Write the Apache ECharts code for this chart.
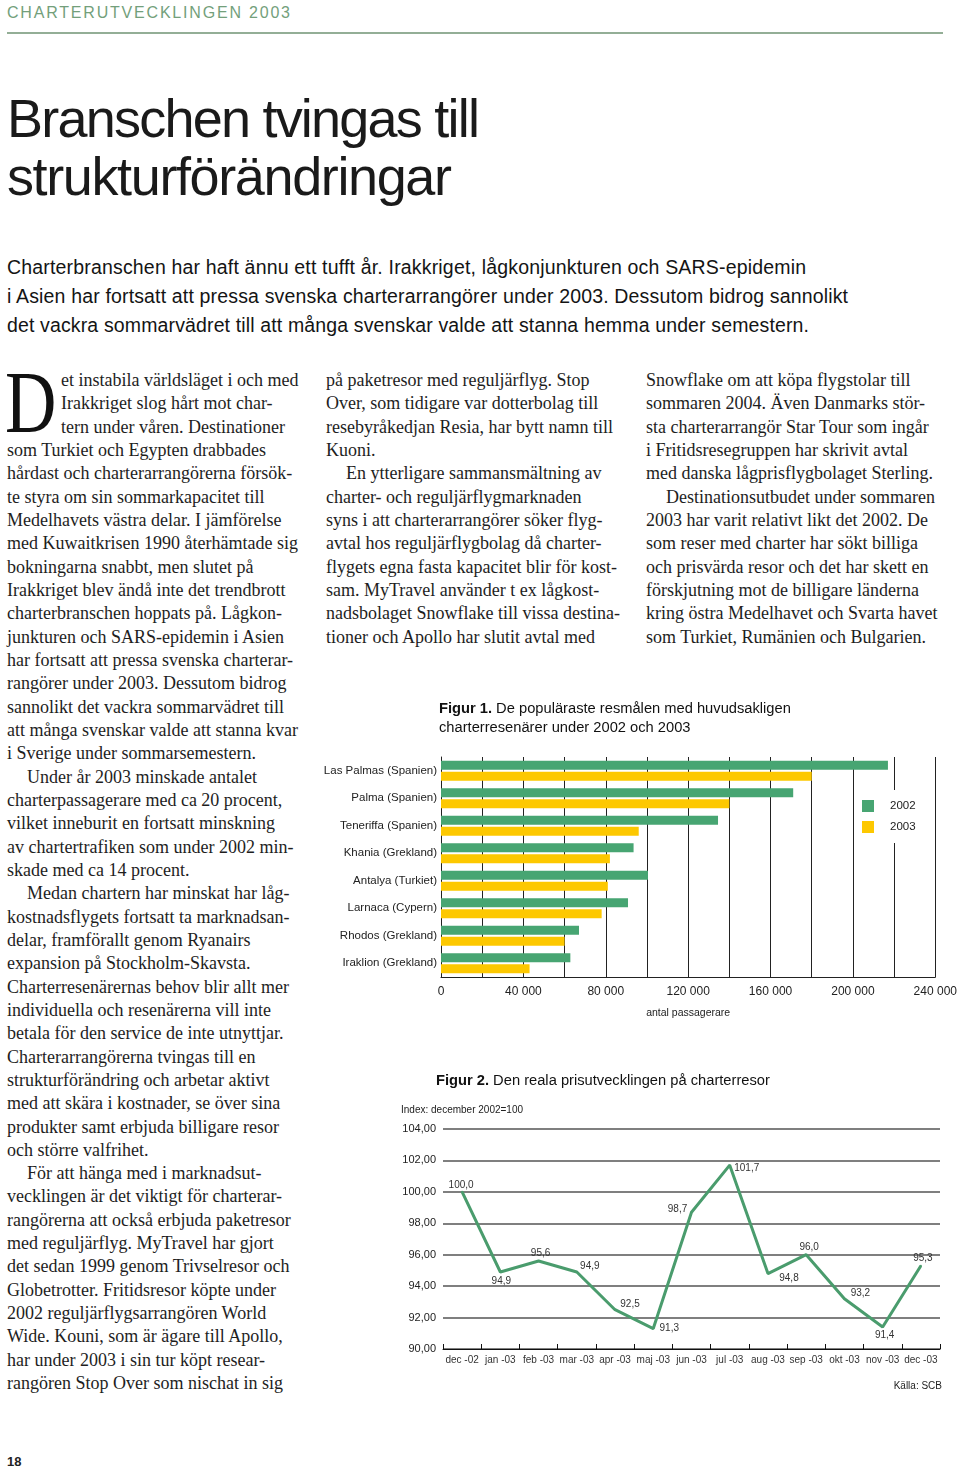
<!DOCTYPE html>
<html>
<head>
<meta charset="utf-8">
<script src="https://cdn.jsdelivr.net/npm/echarts@6/dist/echarts.min.js"></script>
<style>
  html, body { margin:0; padding:0; background:#fff; }
  #page { position:relative; width:960px; height:1468px; overflow:hidden; background:#fff; }
  .abs { position:absolute; white-space:nowrap; }
  .sans { font-family:'Liberation Sans', Arial, sans-serif; }
  .serif { font-family:'Liberation Serif', 'Times New Roman', serif; }
  .col { position:absolute; top:369px; font-size:18px; line-height:23.33px; color:#1e1e1e; }
  .col div { white-space:nowrap; height:23.33px; }
  .ind { padding-left:20px; }
  .dc { padding-left:54px; }
  #chart { position:absolute; left:320px; top:690px; width:640px; height:720px; }
</style>
</head>
<body>
<div id="page">
  <div class="abs sans fit" data-w="283" style="left:7px; top:3px; font-size:16px; line-height:20px; color:#739f7b;">CHARTERUTVECKLINGEN 2003</div>
  <div class="abs" style="left:7px; top:32px; width:936px; height:2px; background:#93ae96;"></div>

  <div class="abs sans fit" data-w="473" style="left:7px; top:91px; font-size:54px; line-height:54px; color:#1a1a1a;">Branschen tvingas till</div>
  <div class="abs sans fit" data-w="445" style="left:7px; top:149px; font-size:54px; line-height:54px; color:#1a1a1a;">strukturförändringar</div>

  <div class="abs sans fit" data-w="799" style="left:7px; top:255px; font-size:19.5px; line-height:24px; color:#141414;">Charterbranschen har haft ännu ett tufft år. Irakkriget, lågkonjunkturen och SARS-epidemin</div>
  <div class="abs sans fit" data-w="841" style="left:7px; top:284px; font-size:19.5px; line-height:24px; color:#141414;">i Asien har fortsatt att pressa svenska charterarrangörer under 2003. Dessutom bidrog sannolikt</div>
  <div class="abs sans fit" data-w="802" style="left:7px; top:313px; font-size:19.5px; line-height:24px; color:#141414;">det vackra sommarvädret till att många svenskar valde att stanna hemma under semestern.</div>

  <div class="abs serif" style="left:5px; top:358px; font-size:89px; line-height:89px; color:#111; transform:scaleX(0.8); transform-origin:0 0;">D</div>

  <div class="col serif" style="left:7px;">
    <div class="dc">et instabila världsläget i och med</div>
    <div class="dc">Irakkriget slog hårt mot char-</div>
    <div class="dc">tern under våren. Destinationer</div>
    <div>som Turkiet och Egypten drabbades</div>
    <div>hårdast och charterarrangörerna försök-</div>
    <div>te styra om sin sommarkapacitet till</div>
    <div>Medelhavets västra delar. I jämförelse</div>
    <div>med Kuwaitkrisen 1990 återhämtade sig</div>
    <div>bokningarna snabbt, men slutet på</div>
    <div>Irakkriget blev ändå inte det trendbrott</div>
    <div>charterbranschen hoppats på. Lågkon-</div>
    <div>junkturen och SARS-epidemin i Asien</div>
    <div>har fortsatt att pressa svenska charterar-</div>
    <div>rangörer under 2003. Dessutom bidrog</div>
    <div>sannolikt det vackra sommarvädret till</div>
    <div>att många svenskar valde att stanna kvar</div>
    <div>i Sverige under sommarsemestern.</div>
    <div class="ind">Under år 2003 minskade antalet</div>
    <div>charterpassagerare med ca 20 procent,</div>
    <div>vilket inneburit en fortsatt minskning</div>
    <div>av chartertrafiken som under 2002 min-</div>
    <div>skade med ca 14 procent.</div>
    <div class="ind">Medan chartern har minskat har låg-</div>
    <div>kostnadsflygets fortsatt ta marknadsan-</div>
    <div>delar, framförallt genom Ryanairs</div>
    <div>expansion på Stockholm-Skavsta.</div>
    <div>Charterresenärernas behov blir allt mer</div>
    <div>individuella och resenärerna vill inte</div>
    <div>betala för den service de inte utnyttjar.</div>
    <div>Charterarrangörerna tvingas till en</div>
    <div>strukturförändring och arbetar aktivt</div>
    <div>med att skära i kostnader, se över sina</div>
    <div>produkter samt erbjuda billigare resor</div>
    <div>och större valfrihet.</div>
    <div class="ind">För att hänga med i marknadsut-</div>
    <div>vecklingen är det viktigt för charterar-</div>
    <div>rangörerna att också erbjuda paketresor</div>
    <div>med reguljärflyg. MyTravel har gjort</div>
    <div>det sedan 1999 genom Trivselresor och</div>
    <div>Globetrotter. Fritidsresor köpte under</div>
    <div>2002 reguljärflygsarrangören World</div>
    <div>Wide. Kouni, som är ägare till Apollo,</div>
    <div>har under 2003 i sin tur köpt resear-</div>
    <div>rangören Stop Over som nischat in sig</div>
  </div>

  <div class="col serif" style="left:326px;">
    <div>på paketresor med reguljärflyg. Stop</div>
    <div>Over, som tidigare var dotterbolag till</div>
    <div>resebyråkedjan Resia, har bytt namn till</div>
    <div>Kuoni.</div>
    <div class="ind">En ytterligare sammansmältning av</div>
    <div>charter- och reguljärflygmarknaden</div>
    <div>syns i att charterarrangörer söker flyg-</div>
    <div>avtal hos reguljärflygbolag då charter-</div>
    <div>flygets egna fasta kapacitet blir för kost-</div>
    <div>sam. MyTravel använder t ex lågkost-</div>
    <div>nadsbolaget Snowflake till vissa destina-</div>
    <div>tioner och Apollo har slutit avtal med</div>
  </div>

  <div class="col serif" style="left:646px;">
    <div>Snowflake om att köpa flygstolar till</div>
    <div>sommaren 2004. Även Danmarks stör-</div>
    <div>sta charterarrangör Star Tour som ingår</div>
    <div>i Fritidsresegruppen har skrivit avtal</div>
    <div>med danska lågprisflygbolaget Sterling.</div>
    <div class="ind">Destinationsutbudet under sommaren</div>
    <div>2003 har varit relativt likt det 2002. De</div>
    <div>som reser med charter har sökt billiga</div>
    <div>och prisvärda resor och det har skett en</div>
    <div>förskjutning mot de billigare länderna</div>
    <div>kring östra Medelhavet och Svarta havet</div>
    <div>som Turkiet, Rumänien och Bulgarien.</div>
  </div>

  <div id="chart"></div>

  <div class="abs sans" style="left:7px; top:1454px; font-size:13px; line-height:16px; font-weight:bold; color:#222;">18</div>
</div>

<script>
// ---- Data ----
const categories = ['Las Palmas (Spanien)', 'Palma (Spanien)', 'Teneriffa (Spanien)', 'Khania (Grekland)',
                    'Antalya (Turkiet)', 'Larnaca (Cypern)', 'Rhodos (Grekland)', 'Iraklion (Grekland)'];
const seriesNames = ['2002', '2003'];
const passengers2002 = [217000, 171000, 134500, 93500, 100500, 90800, 67000, 62800];
const passengers2003 = [180000, 140000, 96000, 82000, 81000, 78000, 60000, 43000];

const months = ['dec -02', 'jan -03', 'feb -03', 'mar -03', 'apr -03', 'maj -03', 'jun -03',
                'jul -03', 'aug -03', 'sep -03', 'okt -03', 'nov -03', 'dec -03'];
const priceIndex = [100.0, 94.9, 95.6, 94.9, 92.5, 91.3, 98.7, 101.7, 94.8, 96.0, 93.2, 91.4, 95.3];

// ---- text fitting (letter-spacing to match reference widths) ----
document.querySelectorAll('.fit').forEach(el => {
  const target = parseFloat(el.dataset.w);
  const span = document.createElement('span');
  span.textContent = el.textContent;
  el.textContent = '';
  el.appendChild(span);
  const w = span.getBoundingClientRect().width;
  const n = span.textContent.length - 1;
  if (n > 0) el.style.letterSpacing = ((target - w) / n).toFixed(3) + 'px';
});

// ---- Chart ----
const FONT = "'Liberation Sans', Arial, sans-serif";
const GREEN_BAR = '#47a572';
const YELLOW = '#fdc800';
const GREEN_LINE = '#4a9c6d';

// label placement offsets for the line chart (style only)
const labelOffsets = [[-1,-7],[1,9],[2,-8],[13,-6],[15,-5],[16,0],[-14,-3],[17,3],[21,5],[3,-7],[16,-5],[2,8],[2,-7]];

const fmtThousands = v => String(v).replace(/\B(?=(\d{3})+(?!\d))/g, ' ');

const chart = echarts.init(document.getElementById('chart'), null, {renderer: 'canvas'});
chart.setOption({
  animation: false,
  textStyle: {fontFamily: FONT},
  title: [
    {left: 119, top: 9, padding: 0,
     text: '{b|Figur 1.} De populäraste resmålen med huvudsakligen\ncharterresenärer under 2002 och 2003',
     textStyle: {fontFamily: FONT, fontSize: 14.7, fontWeight: 'normal', color: '#111', lineHeight: 19,
                 rich: {b: {fontFamily: FONT, fontSize: 14.7, fontWeight: 'bold', color: '#111', lineHeight: 19}}}},
    {left: 116, top: 381, padding: 0,
     text: '{b|Figur 2.} Den reala prisutvecklingen på charterresor',
     textStyle: {fontFamily: FONT, fontSize: 14.7, fontWeight: 'normal', color: '#111', lineHeight: 19,
                 rich: {b: {fontFamily: FONT, fontSize: 14.7, fontWeight: 'bold', color: '#111', lineHeight: 19}}}},
    {left: 81, top: 415, padding: 0, text: 'Index: december 2002=100',
     textStyle: {fontFamily: FONT, fontSize: 10, fontWeight: 'normal', color: '#222'}},
    {right: 18, top: 691, padding: 0, text: 'Källa: SCB',
     textStyle: {fontFamily: FONT, fontSize: 10, fontWeight: 'normal', color: '#222'}}
  ],
  legend: {
    orient: 'vertical', left: 534, top: 100, padding: [10, 12, 10, 8],
    backgroundColor: '#fff', itemWidth: 12, itemHeight: 12, itemGap: 9, icon: 'rect',
    textStyle: {fontFamily: FONT, fontSize: 11.5, color: '#222', padding: [0, 0, 0, 11]},
    data: seriesNames
  },
  grid: [
    {left: 121, top: 67, width: 496, height: 220},
    {left: 123, top: 439, width: 497, height: 220}
  ],
  xAxis: [
    {gridIndex: 0, type: 'value', min: 0, max: 240000, interval: 20000,
     axisLine: {show: true, lineStyle: {color: '#222', width: 1}},
     axisTick: {show: false},
     splitLine: {show: true, lineStyle: {color: '#222', width: 1}},
     axisLabel: {fontFamily: FONT, fontSize: 12, color: '#222', margin: 9,
                 formatter: v => (v % 40000 === 0 ? fmtThousands(v) : '')},
     name: 'antal passagerare', nameLocation: 'middle', nameGap: 31,
     nameTextStyle: {fontFamily: FONT, fontSize: 10.5, color: '#222'}},
    {gridIndex: 1, type: 'category', data: months, boundaryGap: true,
     axisLine: {show: true, lineStyle: {color: '#111', width: 1}},
     axisTick: {show: true, inside: true, length: 5, lineStyle: {color: '#111'}},
     axisLabel: {fontFamily: FONT, fontSize: 10, color: '#333', margin: 6, interval: 0},
     splitLine: {show: false}}
  ],
  yAxis: [
    {gridIndex: 0, type: 'category', data: categories, inverse: true,
     axisLine: {show: true, lineStyle: {color: '#222', width: 1}},
     axisTick: {show: false},
     axisLabel: {fontFamily: FONT, fontSize: 11.5, color: '#222', margin: 4},
     splitLine: {show: false}},
    {gridIndex: 1, type: 'value', min: 90, max: 104, interval: 2,
     axisLine: {show: false}, axisTick: {show: false},
     splitLine: {show: true, lineStyle: {color: '#555', width: 1.5}},
     axisLabel: {fontFamily: FONT, fontSize: 11, color: '#222', margin: 7,
                 formatter: v => v.toFixed(2).replace('.', ',')}}
  ],
  series: [
    {name: seriesNames[0], type: 'bar', xAxisIndex: 0, yAxisIndex: 0, barWidth: 9, barGap: '20%',
     itemStyle: {color: GREEN_BAR}, data: passengers2002},
    {name: seriesNames[1], type: 'bar', xAxisIndex: 0, yAxisIndex: 0, barWidth: 9, barGap: '20%',
     itemStyle: {color: YELLOW}, data: passengers2003},
    {name: 'Prisindex', type: 'line', xAxisIndex: 1, yAxisIndex: 1,
     symbol: 'circle', symbolSize: 2, showSymbol: true,
     lineStyle: {color: GREEN_LINE, width: 3}, itemStyle: {color: GREEN_LINE},
     data: priceIndex.map((v, i) => ({
       value: v,
       label: {show: true, position: 'inside', offset: labelOffsets[i],
               fontFamily: FONT, fontSize: 10, color: '#333',
               formatter: p => p.value.toFixed(1).replace('.', ',')}
     }))}
  ]
});
</script>
</body>
</html>
